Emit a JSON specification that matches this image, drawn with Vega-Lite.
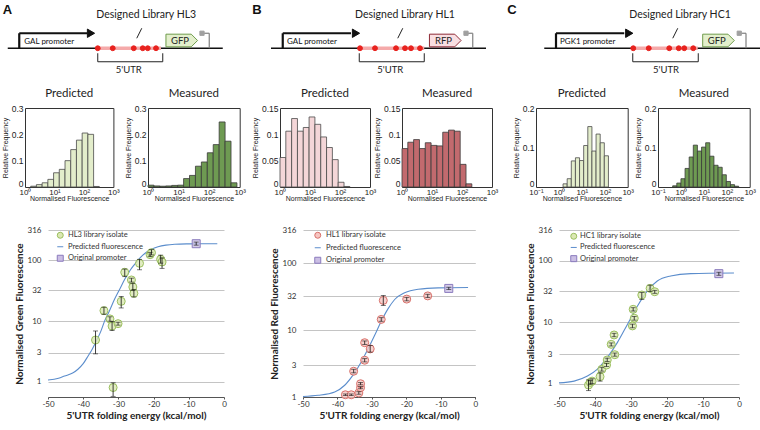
{
"$schema": "https://vega.github.io/schema/vega-lite/v6.json",
"padding": 0,
"background": "white",
"spacing": 0,
"resolve": {"scale": {"x":"independent","y":"independent","color":"independent","fill":"independent","stroke":"independent","shape":"independent","size":"independent","strokeWidth":"independent"}, "legend": {"color":"independent","fill":"independent","stroke":"independent","shape":"independent","size":"independent","strokeWidth":"independent"}},
"config": {"view": {"stroke": null}, "font": "Lato", "concat": {"spacing": 0}, "axis": {"labelOverlap": false}, "axisX": {"labelOverlap": false}},
"datasets": {
"ptsA": [
{"energy":-36.5,"fluor":4.9,"lo":2.9,"hi":6.9,"series":"HL3 library isolate"},
{"energy":-34.1,"fluor":14.9,"lo":13.0,"hi":17.0,"series":"HL3 library isolate"},
{"energy":-32.4,"fluor":10.9,"lo":10.0,"hi":11.8,"series":"HL3 library isolate"},
{"energy":-31.8,"fluor":8.3,"lo":7.0,"hi":9.9,"series":"HL3 library isolate"},
{"energy":-30.1,"fluor":9.1,"lo":8.6,"hi":9.6,"series":"HL3 library isolate"},
{"energy":-31.5,"fluor":0.81,"lo":0.58,"hi":0.97,"series":"HL3 library isolate"},
{"energy":-29.2,"fluor":21.2,"lo":16.5,"hi":25.5,"series":"HL3 library isolate"},
{"energy":-28.2,"fluor":63.7,"lo":54,"hi":72,"series":"HL3 library isolate"},
{"energy":-26.3,"fluor":47.6,"lo":44,"hi":51,"series":"HL3 library isolate"},
{"energy":-25.9,"fluor":36.5,"lo":32,"hi":42,"series":"HL3 library isolate"},
{"energy":-25.6,"fluor":28.7,"lo":25,"hi":33,"series":"HL3 library isolate"},
{"energy":-24.0,"fluor":89.5,"lo":70,"hi":104,"series":"HL3 library isolate"},
{"energy":-21.0,"fluor":124,"lo":115,"hi":134,"series":"HL3 library isolate"},
{"energy":-20.6,"fluor":134,"lo":123,"hi":150,"series":"HL3 library isolate"},
{"energy":-18.0,"fluor":104,"lo":90,"hi":122,"series":"HL3 library isolate"},
{"energy":-17.6,"fluor":94,"lo":74,"hi":110,"series":"HL3 library isolate"},
{"energy":-7.9,"fluor":188,"lo":178,"hi":200,"series":"Original promoter"}
],
"ptsB": [
{"energy":-37.7,"fluor":1.08,"lo":1.05,"hi":1.11,"series":"HL1 library isolate"},
{"energy":-36.0,"fluor":1.08,"lo":1.05,"hi":1.11,"series":"HL1 library isolate"},
{"energy":-33.8,"fluor":1.15,"lo":1.1,"hi":1.2,"series":"HL1 library isolate"},
{"energy":-33.3,"fluor":1.38,"lo":1.33,"hi":1.43,"series":"HL1 library isolate"},
{"energy":-33.3,"fluor":1.58,"lo":1.52,"hi":1.65,"series":"HL1 library isolate"},
{"energy":-35.3,"fluor":2.43,"lo":2.3,"hi":2.6,"series":"HL1 library isolate"},
{"energy":-32.1,"fluor":3.55,"lo":3.35,"hi":3.75,"series":"HL1 library isolate"},
{"energy":-32.1,"fluor":6.5,"lo":6.1,"hi":6.9,"series":"HL1 library isolate"},
{"energy":-30.5,"fluor":5.25,"lo":4.7,"hi":5.9,"series":"HL1 library isolate"},
{"energy":-27.3,"fluor":14.5,"lo":13.6,"hi":15.4,"series":"HL1 library isolate"},
{"energy":-26.7,"fluor":27.9,"lo":23.5,"hi":33,"series":"HL1 library isolate"},
{"energy":-19.9,"fluor":29.2,"lo":27.5,"hi":31,"series":"HL1 library isolate"},
{"energy":-13.8,"fluor":32.6,"lo":30.8,"hi":34.5,"series":"HL1 library isolate"},
{"energy":-7.7,"fluor":42.2,"lo":40.5,"hi":44,"series":"Original promoter"}
],
"ptsC": [
{"energy":-41.8,"fluor":0.95,"lo":0.77,"hi":1.15,"series":"HC1 library isolate"},
{"energy":-41.3,"fluor":1.05,"lo":0.98,"hi":1.12,"series":"HC1 library isolate"},
{"energy":-40.8,"fluor":1.1,"lo":1.0,"hi":1.2,"series":"HC1 library isolate"},
{"energy":-38.6,"fluor":1.3,"lo":1.1,"hi":1.5,"series":"HC1 library isolate"},
{"energy":-38.1,"fluor":1.71,"lo":1.6,"hi":1.85,"series":"HC1 library isolate"},
{"energy":-36.8,"fluor":2.01,"lo":1.9,"hi":2.15,"series":"HC1 library isolate"},
{"energy":-36.6,"fluor":2.43,"lo":2.3,"hi":2.6,"series":"HC1 library isolate"},
{"energy":-34.5,"fluor":2.96,"lo":2.8,"hi":3.15,"series":"HC1 library isolate"},
{"energy":-35.5,"fluor":4.36,"lo":4.1,"hi":4.6,"series":"HC1 library isolate"},
{"energy":-34.7,"fluor":6.2,"lo":5.8,"hi":6.6,"series":"HC1 library isolate"},
{"energy":-29.6,"fluor":8.7,"lo":8.1,"hi":9.3,"series":"HC1 library isolate"},
{"energy":-29.1,"fluor":11.6,"lo":10.8,"hi":12.4,"series":"HC1 library isolate"},
{"energy":-29.4,"fluor":16.2,"lo":15.2,"hi":17.2,"series":"HC1 library isolate"},
{"energy":-27.0,"fluor":27.7,"lo":23.5,"hi":30.5,"series":"HC1 library isolate"},
{"energy":-24.7,"fluor":35.5,"lo":31.5,"hi":40,"series":"HC1 library isolate"},
{"energy":-23.4,"fluor":31.3,"lo":29.5,"hi":33,"series":"HC1 library isolate"},
{"energy":-5.6,"fluor":61.6,"lo":58,"hi":65,"series":"Original promoter"}
]
},
"vconcat": [
{
"hconcat": [
{
"width": 250, "height": 80,
"data": {"values": [
{"kind":"seg","part":"dna","x":2.7,"x2":88.7,"y":12.7,"y2":12.7},
{"kind":"seg","part":"prom","x":7.3,"x2":7.3,"y":12.7,"y2":18.7},
{"kind":"seg","part":"prom","x":7.3,"x2":34.5,"y":18.7,"y2":18.7},
{"kind":"seg","part":"utr","x":38.7,"x2":64,"y":12.7,"y2":12.7},
{"kind":"seg","part":"thin","x":54.3,"x2":56.3,"y":16.7,"y2":20.7},
{"kind":"seg","part":"thin","x":38.7,"x2":38.7,"y":10.7,"y2":7.3},
{"kind":"seg","part":"thin","x":38.7,"x2":64.7,"y":7.3,"y2":7.3},
{"kind":"seg","part":"thin","x":64.7,"x2":64.7,"y":7.3,"y2":10.7},
{"kind":"seg","part":"term","x":80.4,"x2":83.3,"y":18.7,"y2":18.7},
{"kind":"seg","part":"term","x":83.3,"x2":83.3,"y":18.7,"y2":12.7},
{"kind":"pt","part":"site","x":38.7,"y":12.7},
{"kind":"pt","part":"site","x":44.7,"y":12.7},
{"kind":"pt","part":"site","x":53.1,"y":12.7},
{"kind":"pt","part":"site","x":56.7,"y":12.7},
{"kind":"pt","part":"site","x":58.7,"y":12.7},
{"kind":"pt","part":"site","x":62.0,"y":12.7},
{"kind":"pt","part":"head","x":36,"y":18.7},
{"kind":"pt","part":"gfp","x":72.3,"y":15.8},
{"kind":"pt","part":"termbox","x":80.4,"y":18.7},
{"kind":"title","label":"Designed Library HL3","x":58.1,"y":26},
{"kind":"lab","label":"5'UTR","x":51.1,"y":4},
{"kind":"lab","label":"GFP","x":71.6,"y":15.8},
{"kind":"prom","label":"GAL promoter","x":9.3,"y":15.3},
{"kind":"letter","label":"A","x":0.7,"y":28}
]},
"encoding": {
"x": {"field":"x","type":"quantitative","scale":{"domain":[0,100],"nice":false,"zero":false},"axis":null},
"y": {"field":"y","type":"quantitative","scale":{"domain":[0,32],"nice":false,"zero":false},"axis":null}
},
"layer": [
{"transform":[{"filter":"datum.kind=='seg'"}],"mark":{"type":"rule"},
"encoding":{"x2":{"field":"x2"},"y2":{"field":"y2"},
"color":{"field":"part","type":"nominal","scale":{"domain":["dna","prom","utr","thin","term"],"range":["#111111","#111111","#f5aaaa","#222222","#808080"]},"legend":null},
"strokeWidth":{"field":"part","type":"ordinal","scale":{"type":"ordinal","domain":["dna","prom","utr","thin","term"],"range":[1.5,2.2,3.5,1,1.2]},"legend":null}}},
{"transform":[{"filter":"datum.kind=='pt'"}],"mark":{"type":"point","filled":true,"opacity":1,"strokeWidth":1},
"encoding":{
"shape":{"field":"part","type":"nominal","scale":{"domain":["site","head","gfp","rfp","termbox"],"range":["circle","triangle-right","M-1,-0.4L0.6,-0.4L1,0L0.6,0.4L-1,0.4Z","M-1,-0.4L0.6,-0.4L1,0L0.6,0.4L-1,0.4Z","square"]},"legend":null},
"fill":{"field":"part","type":"nominal","scale":{"domain":["site","head","gfp","rfp","termbox"],"range":["#e8221e","#111111","#e3efcc","#f9dfe2","#a0a0a0"]},"legend":null},
"stroke":{"field":"part","type":"nominal","scale":{"domain":["site","head","gfp","rfp","termbox"],"range":["#e8221e","#111111","#6f9c4c","#8e2a36","#a0a0a0"]},"legend":null},
"size":{"field":"part","type":"ordinal","scale":{"type":"ordinal","domain":["site","head","gfp","rfp","termbox"],"range":[24,70,1000,1000,18]},"legend":null}}},
{"transform":[{"filter":"datum.kind=='title'"}],"mark":{"type":"text","font":"Lato","fontSize":10.5,"color":"#222","align":"center","baseline":"middle"},"encoding":{"text":{"field":"label"}}},
{"transform":[{"filter":"datum.kind=='lab'"}],"mark":{"type":"text","font":"Lato","fontSize":9.5,"color":"#222","align":"center","baseline":"middle"},"encoding":{"text":{"field":"label"}}},
{"transform":[{"filter":"datum.kind=='prom'"}],"mark":{"type":"text","font":"Lato","fontSize":8,"color":"#111","align":"left","baseline":"middle"},"encoding":{"text":{"field":"label"}}},
{"transform":[{"filter":"datum.kind=='letter'"}],"mark":{"type":"text","font":"Liberation Sans","fontSize":13,"fontWeight":"bold","color":"#111","align":"left","baseline":"middle"},"encoding":{"text":{"field":"label"}}}
]
},
{
"width": 255, "height": 80,
"data": {"values": [
{"kind":"seg","part":"dna","x":8,"x2":94,"y":12.7,"y2":12.7},
{"kind":"seg","part":"prom","x":12.7,"x2":12.7,"y":12.7,"y2":18.7},
{"kind":"seg","part":"prom","x":12.7,"x2":40,"y":18.7,"y2":18.7},
{"kind":"seg","part":"utr","x":43.3,"x2":69.3,"y":12.7,"y2":12.7},
{"kind":"seg","part":"thin","x":58.7,"x2":60.7,"y":16.7,"y2":20.7},
{"kind":"seg","part":"thin","x":43.3,"x2":43.3,"y":10.7,"y2":7.3},
{"kind":"seg","part":"thin","x":43.3,"x2":69.3,"y":7.3,"y2":7.3},
{"kind":"seg","part":"thin","x":69.3,"x2":69.3,"y":7.3,"y2":10.7},
{"kind":"seg","part":"term","x":86,"x2":88.7,"y":18.7,"y2":18.7},
{"kind":"seg","part":"term","x":88.7,"x2":88.7,"y":18.7,"y2":12.7},
{"kind":"pt","part":"site","x":43.6,"y":12.7},
{"kind":"pt","part":"site","x":49.6,"y":12.7},
{"kind":"pt","part":"site","x":58.0,"y":12.7},
{"kind":"pt","part":"site","x":61.6,"y":12.7},
{"kind":"pt","part":"site","x":64.0,"y":12.7},
{"kind":"pt","part":"site","x":67.6,"y":12.7},
{"kind":"pt","part":"head","x":42,"y":18.7},
{"kind":"pt","part":"rfp","x":77.7,"y":15.8},
{"kind":"pt","part":"termbox","x":86,"y":18.7},
{"kind":"title","label":"Designed Library HL1","x":61.6,"y":26},
{"kind":"lab","label":"5'UTR","x":55.7,"y":4},
{"kind":"lab","label":"RFP","x":77,"y":15.8},
{"kind":"prom","label":"GAL promoter","x":14.4,"y":15.3},
{"kind":"letter","label":"B","x":0.5,"y":28}
]},
"encoding": {
"x": {"field":"x","type":"quantitative","scale":{"domain":[0,102],"nice":false,"zero":false},"axis":null},
"y": {"field":"y","type":"quantitative","scale":{"domain":[0,32],"nice":false,"zero":false},"axis":null}
},
"layer": [
{"transform":[{"filter":"datum.kind=='seg'"}],"mark":{"type":"rule"},
"encoding":{"x2":{"field":"x2"},"y2":{"field":"y2"},
"color":{"field":"part","type":"nominal","scale":{"domain":["dna","prom","utr","thin","term"],"range":["#111111","#111111","#f5aaaa","#222222","#808080"]},"legend":null},
"strokeWidth":{"field":"part","type":"ordinal","scale":{"type":"ordinal","domain":["dna","prom","utr","thin","term"],"range":[1.5,2.2,3.5,1,1.2]},"legend":null}}},
{"transform":[{"filter":"datum.kind=='pt'"}],"mark":{"type":"point","filled":true,"opacity":1,"strokeWidth":1},
"encoding":{
"shape":{"field":"part","type":"nominal","scale":{"domain":["site","head","gfp","rfp","termbox"],"range":["circle","triangle-right","M-1,-0.4L0.6,-0.4L1,0L0.6,0.4L-1,0.4Z","M-1,-0.4L0.6,-0.4L1,0L0.6,0.4L-1,0.4Z","square"]},"legend":null},
"fill":{"field":"part","type":"nominal","scale":{"domain":["site","head","gfp","rfp","termbox"],"range":["#e8221e","#111111","#e3efcc","#f9dfe2","#a0a0a0"]},"legend":null},
"stroke":{"field":"part","type":"nominal","scale":{"domain":["site","head","gfp","rfp","termbox"],"range":["#e8221e","#111111","#6f9c4c","#8e2a36","#a0a0a0"]},"legend":null},
"size":{"field":"part","type":"ordinal","scale":{"type":"ordinal","domain":["site","head","gfp","rfp","termbox"],"range":[24,70,1000,1000,18]},"legend":null}}},
{"transform":[{"filter":"datum.kind=='title'"}],"mark":{"type":"text","font":"Lato","fontSize":10.5,"color":"#222","align":"center","baseline":"middle"},"encoding":{"text":{"field":"label"}}},
{"transform":[{"filter":"datum.kind=='lab'"}],"mark":{"type":"text","font":"Lato","fontSize":9.5,"color":"#222","align":"center","baseline":"middle"},"encoding":{"text":{"field":"label"}}},
{"transform":[{"filter":"datum.kind=='prom'"}],"mark":{"type":"text","font":"Lato","fontSize":8,"color":"#111","align":"left","baseline":"middle"},"encoding":{"text":{"field":"label"}}},
{"transform":[{"filter":"datum.kind=='letter'"}],"mark":{"type":"text","font":"Liberation Sans","fontSize":13,"fontWeight":"bold","color":"#111","align":"left","baseline":"middle"},"encoding":{"text":{"field":"label"}}}
]
},
{
"width": 255, "height": 80,
"data": {"values": [
{"kind":"seg","part":"dna","x":15.3,"x2":102,"y":12.7,"y2":12.7},
{"kind":"seg","part":"prom","x":20,"x2":20,"y":12.7,"y2":18.7},
{"kind":"seg","part":"prom","x":20,"x2":47.3,"y":18.7,"y2":18.7},
{"kind":"seg","part":"utr","x":50.7,"x2":76.7,"y":12.7,"y2":12.7},
{"kind":"seg","part":"thin","x":66.7,"x2":68.7,"y":16.7,"y2":20.7},
{"kind":"seg","part":"thin","x":50.7,"x2":50.7,"y":10.7,"y2":7.3},
{"kind":"seg","part":"thin","x":50.7,"x2":76.9,"y":7.3,"y2":7.3},
{"kind":"seg","part":"thin","x":76.9,"x2":76.9,"y":7.3,"y2":10.7},
{"kind":"seg","part":"term","x":93.3,"x2":96,"y":18.7,"y2":18.7},
{"kind":"seg","part":"term","x":96,"x2":96,"y":18.7,"y2":12.7},
{"kind":"pt","part":"site","x":50.9,"y":12.7},
{"kind":"pt","part":"site","x":57.1,"y":12.7},
{"kind":"pt","part":"site","x":65.3,"y":12.7},
{"kind":"pt","part":"site","x":69.1,"y":12.7},
{"kind":"pt","part":"site","x":71.3,"y":12.7},
{"kind":"pt","part":"site","x":74.9,"y":12.7},
{"kind":"pt","part":"head","x":49.3,"y":18.7},
{"kind":"pt","part":"gfp","x":85,"y":15.8},
{"kind":"pt","part":"termbox","x":93.3,"y":18.7},
{"kind":"title","label":"Designed Library HC1","x":69.6,"y":26},
{"kind":"lab","label":"5'UTR","x":64,"y":4},
{"kind":"lab","label":"GFP","x":84.3,"y":15.8},
{"kind":"prom","label":"PGK1 promoter","x":21.6,"y":15.3},
{"kind":"letter","label":"C","x":0.5,"y":28}
]},
"encoding": {
"x": {"field":"x","type":"quantitative","scale":{"domain":[0,102],"nice":false,"zero":false},"axis":null},
"y": {"field":"y","type":"quantitative","scale":{"domain":[0,32],"nice":false,"zero":false},"axis":null}
},
"layer": [
{"transform":[{"filter":"datum.kind=='seg'"}],"mark":{"type":"rule"},
"encoding":{"x2":{"field":"x2"},"y2":{"field":"y2"},
"color":{"field":"part","type":"nominal","scale":{"domain":["dna","prom","utr","thin","term"],"range":["#111111","#111111","#f5aaaa","#222222","#808080"]},"legend":null},
"strokeWidth":{"field":"part","type":"ordinal","scale":{"type":"ordinal","domain":["dna","prom","utr","thin","term"],"range":[1.5,2.2,3.5,1,1.2]},"legend":null}}},
{"transform":[{"filter":"datum.kind=='pt'"}],"mark":{"type":"point","filled":true,"opacity":1,"strokeWidth":1},
"encoding":{
"shape":{"field":"part","type":"nominal","scale":{"domain":["site","head","gfp","rfp","termbox"],"range":["circle","triangle-right","M-1,-0.4L0.6,-0.4L1,0L0.6,0.4L-1,0.4Z","M-1,-0.4L0.6,-0.4L1,0L0.6,0.4L-1,0.4Z","square"]},"legend":null},
"fill":{"field":"part","type":"nominal","scale":{"domain":["site","head","gfp","rfp","termbox"],"range":["#e8221e","#111111","#e3efcc","#f9dfe2","#a0a0a0"]},"legend":null},
"stroke":{"field":"part","type":"nominal","scale":{"domain":["site","head","gfp","rfp","termbox"],"range":["#e8221e","#111111","#6f9c4c","#8e2a36","#a0a0a0"]},"legend":null},
"size":{"field":"part","type":"ordinal","scale":{"type":"ordinal","domain":["site","head","gfp","rfp","termbox"],"range":[24,70,1000,1000,18]},"legend":null}}},
{"transform":[{"filter":"datum.kind=='title'"}],"mark":{"type":"text","font":"Lato","fontSize":10.5,"color":"#222","align":"center","baseline":"middle"},"encoding":{"text":{"field":"label"}}},
{"transform":[{"filter":"datum.kind=='lab'"}],"mark":{"type":"text","font":"Lato","fontSize":9.5,"color":"#222","align":"center","baseline":"middle"},"encoding":{"text":{"field":"label"}}},
{"transform":[{"filter":"datum.kind=='prom'"}],"mark":{"type":"text","font":"Lato","fontSize":8,"color":"#111","align":"left","baseline":"middle"},"encoding":{"text":{"field":"label"}}},
{"transform":[{"filter":"datum.kind=='letter'"}],"mark":{"type":"text","font":"Liberation Sans","fontSize":13,"fontWeight":"bold","color":"#111","align":"left","baseline":"middle"},"encoding":{"text":{"field":"label"}}}
]
}
],
"bounds": "flush", "spacing": 0,
"resolve": {"scale": {"x":"independent","y":"independent","color":"independent","fill":"independent","stroke":"independent","shape":"independent","size":"independent","strokeWidth":"independent"}, "legend": {"color":"independent","fill":"independent","stroke":"independent","shape":"independent","size":"independent","strokeWidth":"independent"}}
},
{"width": 1, "height": 6.8, "data": {"values": []}, "mark": "point", "encoding": {}},
{
"hconcat": [
{"width": 23.3, "height": 79, "data": {"values": []}, "mark": "point", "encoding": {}},
{
"width": 88.4, "height": 79, "view": {"stroke": "#333", "strokeWidth": 1},
"title": {"text": "Predicted", "font": "Lato", "fontSize": 11.5, "fontWeight": "normal", "color": "#222", "offset": 5},
"data": {"values": [
{"lo":0.194,"hi":0.388,"freq":0.003},{"lo":0.388,"hi":0.582,"freq":0.009},{"lo":0.582,"hi":0.776,"freq":0.016},
{"lo":0.776,"hi":0.970,"freq":0.029},{"lo":0.970,"hi":1.164,"freq":0.054},{"lo":1.164,"hi":1.358,"freq":0.067},
{"lo":1.358,"hi":1.552,"freq":0.100},{"lo":1.552,"hi":1.746,"freq":0.142},{"lo":1.746,"hi":1.940,"freq":0.178},
{"lo":1.940,"hi":2.134,"freq":0.205},{"lo":2.134,"hi":2.328,"freq":0.200},{"lo":2.328,"hi":2.522,"freq":0.002}
]},
"mark": {"type": "bar", "fill": "#e3edcb", "stroke": "#4a4a4a", "strokeWidth": 0.8},
"encoding": {
"x": {"field":"lo","type":"quantitative","scale":{"domain":[0,3],"nice":false,"zero":false},
"axis":{"values":[0,1,2,3],"labelExpr":"'10' + ['⁰','¹','²','³'][datum.value]","title":"Normalised Fluorescence","grid":false,"domain":false,"ticks":false,"labelFont":"Liberation Sans","labelFontSize":8,"labelColor":"#222","labelPadding":1,"labelFlush":false,"titleFont":"Liberation Sans","titleFontSize":7,"titleFontWeight":"normal","titleColor":"#222","titlePadding":-1.5}},
"x2": {"field":"hi"},
"y": {"field":"freq","type":"quantitative","scale":{"domain":[0,0.3],"nice":false},
"axis":{"values":[0,0.1,0.2,0.3],"labelExpr":"''+datum.value","title":"Relative Frequency","grid":false,"domain":false,"ticks":false,"labelFont":"Liberation Sans","labelFontSize":8.5,"labelColor":"#222","labelPadding":2,"labelOffset":{"condition":{"test":"datum.value == 0","value":-4},"value":0},"labelFlush":false,"titleFont":"Liberation Sans","titleFontSize":7,"titleFontWeight":"normal","titleColor":"#222","titlePadding":3}},
"y2": {"datum": 0}
}
},
{"width": 33.3, "height": 79, "data": {"values": []}, "mark": "point", "encoding": {}},
{
"width": 91.7, "height": 79, "view": {"stroke": "#333", "strokeWidth": 1},
"title": {"text": "Measured", "font": "Lato", "fontSize": 11.5, "fontWeight": "normal", "color": "#222", "offset": 5},
"data": {"values": [
{"lo":0.000,"hi":0.194,"freq":0.007},{"lo":0.194,"hi":0.388,"freq":0.004},{"lo":0.388,"hi":0.582,"freq":0.003},
{"lo":0.582,"hi":0.776,"freq":0.004},{"lo":0.776,"hi":0.970,"freq":0.006},{"lo":0.970,"hi":1.164,"freq":0.007},
{"lo":1.164,"hi":1.358,"freq":0.032},{"lo":1.358,"hi":1.552,"freq":0.044},{"lo":1.552,"hi":1.746,"freq":0.079},
{"lo":1.746,"hi":1.940,"freq":0.095},{"lo":1.940,"hi":2.134,"freq":0.130},{"lo":2.134,"hi":2.328,"freq":0.161},
{"lo":2.328,"hi":2.522,"freq":0.247},{"lo":2.522,"hi":2.716,"freq":0.174},{"lo":2.716,"hi":2.910,"freq":0.016}
]},
"mark": {"type": "bar", "fill": "#6e9a52", "stroke": "#3a3a3a", "strokeWidth": 0.8},
"encoding": {
"x": {"field":"lo","type":"quantitative","scale":{"domain":[0,3],"nice":false,"zero":false},
"axis":{"values":[0,1,2,3],"labelExpr":"'10' + ['⁰','¹','²','³'][datum.value]","title":"Normalised Fluorescence","grid":false,"domain":false,"ticks":false,"labelFont":"Liberation Sans","labelFontSize":8,"labelColor":"#222","labelPadding":1,"labelFlush":false,"titleFont":"Liberation Sans","titleFontSize":7,"titleFontWeight":"normal","titleColor":"#222","titlePadding":-1.5}},
"x2": {"field":"hi"},
"y": {"field":"freq","type":"quantitative","scale":{"domain":[0,0.3],"nice":false},
"axis":{"values":[0,0.1,0.2,0.3],"labelExpr":"''+datum.value","title":"Relative Frequency","grid":false,"domain":false,"ticks":false,"labelFont":"Liberation Sans","labelFontSize":8.5,"labelColor":"#222","labelPadding":2,"labelOffset":{"condition":{"test":"datum.value == 0","value":-4},"value":0},"labelFlush":false,"titleFont":"Liberation Sans","titleFontSize":7,"titleFontWeight":"normal","titleColor":"#222","titlePadding":3}},
"y2": {"datum": 0}
}
},
{"width": 40, "height": 79, "data": {"values": []}, "mark": "point", "encoding": {}},
{
"width": 90, "height": 79, "view": {"stroke": "#333", "strokeWidth": 1},
"title": {"text": "Predicted", "font": "Lato", "fontSize": 11.5, "fontWeight": "normal", "color": "#222", "offset": 5},
"data": {"values": [
{"lo":0.000,"hi":0.194,"freq":0.056},{"lo":0.194,"hi":0.388,"freq":0.106},{"lo":0.388,"hi":0.582,"freq":0.130},
{"lo":0.582,"hi":0.776,"freq":0.106},{"lo":0.776,"hi":0.970,"freq":0.113},{"lo":0.970,"hi":1.164,"freq":0.133},
{"lo":1.164,"hi":1.358,"freq":0.119},{"lo":1.358,"hi":1.552,"freq":0.095},{"lo":1.552,"hi":1.746,"freq":0.075},
{"lo":1.746,"hi":1.940,"freq":0.052},{"lo":1.940,"hi":2.134,"freq":0.009},{"lo":2.134,"hi":2.328,"freq":0.001}
]},
"mark": {"type": "bar", "fill": "#f4d6d8", "stroke": "#4a4a4a", "strokeWidth": 0.8},
"encoding": {
"x": {"field":"lo","type":"quantitative","scale":{"domain":[0,3],"nice":false,"zero":false},
"axis":{"values":[0,1,2,3],"labelExpr":"'10' + ['⁰','¹','²','³'][datum.value]","title":"Normalised Fluorescence","grid":false,"domain":false,"ticks":false,"labelFont":"Liberation Sans","labelFontSize":8,"labelColor":"#222","labelPadding":1,"labelFlush":false,"titleFont":"Liberation Sans","titleFontSize":7,"titleFontWeight":"normal","titleColor":"#222","titlePadding":-1.5}},
"x2": {"field":"hi"},
"y": {"field":"freq","type":"quantitative","scale":{"domain":[0,0.15],"nice":false},
"axis":{"values":[0,0.05,0.1,0.15],"labelExpr":"''+datum.value","title":"Relative Frequency","grid":false,"domain":false,"ticks":false,"labelFont":"Liberation Sans","labelFontSize":8.5,"labelColor":"#222","labelPadding":2,"labelOffset":{"condition":{"test":"datum.value == 0","value":-4},"value":0},"labelFlush":false,"titleFont":"Liberation Sans","titleFontSize":7,"titleFontWeight":"normal","titleColor":"#222","titlePadding":3}},
"y2": {"datum": 0}
}
},
{"width": 31.7, "height": 79, "data": {"values": []}, "mark": "point", "encoding": {}},
{
"width": 90, "height": 79, "view": {"stroke": "#333", "strokeWidth": 1},
"title": {"text": "Measured", "font": "Lato", "fontSize": 11.5, "fontWeight": "normal", "color": "#222", "offset": 5},
"data": {"values": [
{"lo":0.000,"hi":0.194,"freq":0.073},{"lo":0.194,"hi":0.388,"freq":0.085},{"lo":0.388,"hi":0.582,"freq":0.090},
{"lo":0.582,"hi":0.776,"freq":0.073},{"lo":0.776,"hi":0.970,"freq":0.084},{"lo":0.970,"hi":1.164,"freq":0.079},
{"lo":1.164,"hi":1.358,"freq":0.078},{"lo":1.358,"hi":1.552,"freq":0.104},{"lo":1.552,"hi":1.746,"freq":0.108},
{"lo":1.746,"hi":1.940,"freq":0.106},{"lo":1.940,"hi":2.134,"freq":0.043},{"lo":2.134,"hi":2.328,"freq":0.006}
]},
"mark": {"type": "bar", "fill": "#c26a6e", "stroke": "#3a3a3a", "strokeWidth": 0.8},
"encoding": {
"x": {"field":"lo","type":"quantitative","scale":{"domain":[0,3],"nice":false,"zero":false},
"axis":{"values":[0,1,2,3],"labelExpr":"'10' + ['⁰','¹','²','³'][datum.value]","title":"Normalised Fluorescence","grid":false,"domain":false,"ticks":false,"labelFont":"Liberation Sans","labelFontSize":8,"labelColor":"#222","labelPadding":1,"labelFlush":false,"titleFont":"Liberation Sans","titleFontSize":7,"titleFontWeight":"normal","titleColor":"#222","titlePadding":-1.5}},
"x2": {"field":"hi"},
"y": {"field":"freq","type":"quantitative","scale":{"domain":[0,0.15],"nice":false},
"axis":{"values":[0,0.05,0.1,0.15],"labelExpr":"''+datum.value","title":"Relative Frequency","grid":false,"domain":false,"ticks":false,"labelFont":"Liberation Sans","labelFontSize":8.5,"labelColor":"#222","labelPadding":2,"labelOffset":{"condition":{"test":"datum.value == 0","value":-4},"value":0},"labelFlush":false,"titleFont":"Liberation Sans","titleFontSize":7,"titleFontWeight":"normal","titleColor":"#222","titlePadding":3}},
"y2": {"datum": 0}
}
},
{"width": 43.3, "height": 79, "data": {"values": []}, "mark": "point", "encoding": {}},
{
"width": 91.7, "height": 79, "view": {"stroke": "#333", "strokeWidth": 1},
"title": {"text": "Predicted", "font": "Lato", "fontSize": 11.5, "fontWeight": "normal", "color": "#222", "offset": 5},
"data": {"values": [
{"lo":0.18,"hi":0.36,"freq":0.008},{"lo":0.36,"hi":0.54,"freq":0.021},{"lo":0.54,"hi":0.72,"freq":0.066},
{"lo":0.72,"hi":0.90,"freq":0.074},{"lo":0.90,"hi":1.08,"freq":0.067},{"lo":1.08,"hi":1.26,"freq":0.105},
{"lo":1.26,"hi":1.44,"freq":0.153},{"lo":1.44,"hi":1.62,"freq":0.091},{"lo":1.62,"hi":1.80,"freq":0.134},
{"lo":1.80,"hi":1.98,"freq":0.112},{"lo":1.98,"hi":2.16,"freq":0.079}
]},
"mark": {"type": "bar", "fill": "#e3edcb", "stroke": "#4a4a4a", "strokeWidth": 0.8},
"encoding": {
"x": {"field":"lo","type":"quantitative","scale":{"domain":[-1,3],"nice":false,"zero":false},
"axis":{"values":[-1,0,1,2,3],"labelExpr":"'10' + ['⁻¹','⁰','¹','²','³'][datum.value + 1]","title":"Normalised Fluorescence","grid":false,"domain":false,"ticks":false,"labelFont":"Liberation Sans","labelFontSize":8,"labelColor":"#222","labelPadding":1,"labelFlush":false,"titleFont":"Liberation Sans","titleFontSize":7,"titleFontWeight":"normal","titleColor":"#222","titlePadding":-1.5}},
"x2": {"field":"hi"},
"y": {"field":"freq","type":"quantitative","scale":{"domain":[0,0.2],"nice":false},
"axis":{"values":[0,0.1,0.2],"labelExpr":"''+datum.value","title":"Relative Frequency","grid":false,"domain":false,"ticks":false,"labelFont":"Liberation Sans","labelFontSize":8.5,"labelColor":"#222","labelPadding":2,"labelOffset":{"condition":{"test":"datum.value == 0","value":-4},"value":0},"labelFlush":false,"titleFont":"Liberation Sans","titleFontSize":7,"titleFontWeight":"normal","titleColor":"#222","titlePadding":3}},
"y2": {"datum": 0}
}
},
{"width": 30, "height": 79, "data": {"values": []}, "mark": "point", "encoding": {}},
{
"width": 91.7, "height": 79, "view": {"stroke": "#333", "strokeWidth": 1},
"title": {"text": "Measured", "font": "Lato", "fontSize": 11.5, "fontWeight": "normal", "color": "#222", "offset": 5},
"data": {"values": [
{"lo":-0.36,"hi":-0.18,"freq":0.003},{"lo":-0.18,"hi":0.00,"freq":0.010},{"lo":0.00,"hi":0.18,"freq":0.021},
{"lo":0.18,"hi":0.36,"freq":0.047},{"lo":0.36,"hi":0.54,"freq":0.076},{"lo":0.54,"hi":0.72,"freq":0.106},
{"lo":0.72,"hi":0.90,"freq":0.091},{"lo":0.90,"hi":1.08,"freq":0.101},{"lo":1.08,"hi":1.26,"freq":0.112},
{"lo":1.26,"hi":1.44,"freq":0.078},{"lo":1.44,"hi":1.62,"freq":0.055},{"lo":1.62,"hi":1.80,"freq":0.050},
{"lo":1.80,"hi":1.98,"freq":0.031},{"lo":1.98,"hi":2.16,"freq":0.014},{"lo":2.16,"hi":2.34,"freq":0.006},
{"lo":2.34,"hi":2.52,"freq":0.002}
]},
"mark": {"type": "bar", "fill": "#6e9a52", "stroke": "#3a3a3a", "strokeWidth": 0.8},
"encoding": {
"x": {"field":"lo","type":"quantitative","scale":{"domain":[-1,3],"nice":false,"zero":false},
"axis":{"values":[-1,0,1,2,3],"labelExpr":"'10' + ['⁻¹','⁰','¹','²','³'][datum.value + 1]","title":"Normalised Fluorescence","grid":false,"domain":false,"ticks":false,"labelFont":"Liberation Sans","labelFontSize":8,"labelColor":"#222","labelPadding":1,"labelFlush":false,"titleFont":"Liberation Sans","titleFontSize":7,"titleFontWeight":"normal","titleColor":"#222","titlePadding":-1.5}},
"x2": {"field":"hi"},
"y": {"field":"freq","type":"quantitative","scale":{"domain":[0,0.2],"nice":false},
"axis":{"values":[0,0.1,0.2],"labelExpr":"''+datum.value","title":"Relative Frequency","grid":false,"domain":false,"ticks":false,"labelFont":"Liberation Sans","labelFontSize":8.5,"labelColor":"#222","labelPadding":2,"labelOffset":{"condition":{"test":"datum.value == 0","value":-4},"value":0},"labelFlush":false,"titleFont":"Liberation Sans","titleFontSize":7,"titleFontWeight":"normal","titleColor":"#222","titlePadding":3}},
"y2": {"datum": 0}
}
}
],
"bounds": "flush", "spacing": 0,
"resolve": {"scale": {"x":"independent","y":"independent"}}
},
{"width": 1, "height": 23.9, "data": {"values": []}, "mark": "point", "encoding": {}},
{
"hconcat": [
{"width": 46.7, "height": 167, "data": {"values": []}, "mark": "point", "encoding": {}},
{
"width": 176, "height": 167,
"encoding": {
"x": {"field":"energy","type":"quantitative","title":"5'UTR folding energy (kcal/mol)","scale":{"domain":[-50,0],"nice":false,"zero":false},
"axis":{"values":[-50,-40,-30,-20,-10,0],"labelExpr":"''+datum.value","labelOverlap":false,"grid":false,"domainColor":"#555","tickColor":"#555","tickSize":2,"labelFont":"Lato","labelFontSize":8,"labelColor":"#333","labelPadding":1,"labelFlush":false,"titleFont":"Lato","titleFontSize":10,"titleFontWeight":"bold","titleColor":"#222","titlePadding":2.2}}
},
"layer": [
{"data": {"values": [
{"energy":-50,"fluor":1.08},{"energy":-47,"fluor":1.15},{"energy":-45.3,"fluor":1.25},{"energy":-43,"fluor":1.4},
{"energy":-41.5,"fluor":1.62},{"energy":-40,"fluor":2.0},{"energy":-38.6,"fluor":2.68},{"energy":-37.4,"fluor":3.5},
{"energy":-36.3,"fluor":4.7},{"energy":-35,"fluor":6.8},{"energy":-33.9,"fluor":10.1},{"energy":-32.5,"fluor":15},
{"energy":-31.1,"fluor":22.9},{"energy":-29.7,"fluor":33},{"energy":-28.2,"fluor":48.8},{"energy":-26.8,"fluor":67},
{"energy":-25.4,"fluor":86},{"energy":-24,"fluor":108},{"energy":-22.5,"fluor":130},{"energy":-20.6,"fluor":152},
{"energy":-18.75,"fluor":167},{"energy":-16.5,"fluor":178},{"energy":-14,"fluor":184},{"energy":-10,"fluor":187},
{"energy":-6.4,"fluor":188},{"energy":-1.9,"fluor":188}
]},
"mark": {"type":"line","color":"#5b8dcc","strokeWidth":1.1,"interpolate":"monotone"},
"encoding": {
"y": {"field":"fluor","type":"quantitative","title":"Normalised Green Fluorescence","scale":{"type":"log","domain":[0.566,316],"nice":false},
"axis":{"values":[1,3,10,32,100,316],"labelExpr":"''+datum.value","grid":true,"gridColor":"#c4c4c4","gridWidth":1,"domain":false,"ticks":false,"labelFont":"Lato","labelFontSize":8,"labelColor":"#333","labelPadding":7,"labelFlush":false,"titleFont":"Lato","titleFontSize":10,"titleFontWeight":"bold","titleColor":"#222","titlePadding":3}}
}},
{"data": {"name": "ptsA"},
"mark": {"type":"point","filled":true,"fillOpacity":0.8,"strokeWidth":1,"size":64},
"encoding": {
"y": {"field":"fluor","type":"quantitative","title":"Normalised Green Fluorescence"},
"shape": {"field":"series","type":"nominal","scale":{"domain":["HL3 library isolate","Predicted fluorescence","Original promoter"],"range":["circle","stroke","square"]},
"legend":{"title":null,"orient":"none","legendX":8.5,"legendY":1.5,"labelFont":"Lato","labelFontSize":7.5,"labelColor":"#333","symbolSize":36,"rowPadding":1.5,"labelOffset":4,"padding":0,"symbolStrokeWidth":1}},
"fill": {"field":"series","type":"nominal","scale":{"domain":["HL3 library isolate","Predicted fluorescence","Original promoter"],"range":["#dbe8b3","#ffffff","#cbbfe4"]},
"legend":{"title":null,"orient":"none","legendX":8.5,"legendY":1.5,"labelFont":"Lato","labelFontSize":7.5,"labelColor":"#333","symbolSize":36,"rowPadding":1.5,"labelOffset":4,"padding":0,"symbolStrokeWidth":1}},
"stroke": {"field":"series","type":"nominal","scale":{"domain":["HL3 library isolate","Predicted fluorescence","Original promoter"],"range":["#9bbf5f","#5b8dcc","#8a7bbd"]},
"legend":{"title":null,"orient":"none","legendX":8.5,"legendY":1.5,"labelFont":"Lato","labelFontSize":7.5,"labelColor":"#333","symbolSize":36,"rowPadding":1.5,"labelOffset":4,"padding":0,"symbolStrokeWidth":1}}
}},
{"data": {"name": "ptsA"}, "mark": {"type":"rule","color":"#111","strokeWidth":0.8},
"encoding": {"y":{"field":"lo","type":"quantitative","title":"Normalised Green Fluorescence"},"y2":{"field":"hi"}}},
{"data": {"name": "ptsA"}, "mark": {"type":"tick","orient":"horizontal","color":"#111","size":5,"thickness":0.8},
"encoding": {"y":{"field":"lo","type":"quantitative","title":"Normalised Green Fluorescence"}}},
{"data": {"name": "ptsA"}, "mark": {"type":"tick","orient":"horizontal","color":"#111","size":5,"thickness":0.8},
"encoding": {"y":{"field":"hi","type":"quantitative","title":"Normalised Green Fluorescence"}}}
]
},
{"width": 79, "height": 167, "data": {"values": []}, "mark": "point", "encoding": {}},
{
"width": 172.3, "height": 167,
"encoding": {
"x": {"field":"energy","type":"quantitative","title":"5'UTR folding energy (kcal/mol)","scale":{"domain":[-50,0],"nice":false,"zero":false},
"axis":{"values":[-50,-40,-30,-20,-10,0],"labelExpr":"''+datum.value","labelOverlap":false,"grid":false,"domainColor":"#555","tickColor":"#555","tickSize":2,"labelFont":"Lato","labelFontSize":8,"labelColor":"#333","labelPadding":1,"labelFlush":false,"titleFont":"Lato","titleFontSize":10,"titleFontWeight":"bold","titleColor":"#222","titlePadding":2.2}}
},
"layer": [
{"data": {"values": [
{"energy":-50,"fluor":1.02},{"energy":-45.6,"fluor":1.06},{"energy":-40.8,"fluor":1.19},{"energy":-37.9,"fluor":1.5},
{"energy":-35.3,"fluor":2.2},{"energy":-33.1,"fluor":3.35},{"energy":-31.1,"fluor":5.3},{"energy":-29.2,"fluor":8.4},
{"energy":-27.3,"fluor":13.6},{"energy":-25.3,"fluor":21},{"energy":-23.4,"fluor":28.8},{"energy":-20.5,"fluor":36.3},
{"energy":-16.6,"fluor":41},{"energy":-10.8,"fluor":43},{"energy":-2.1,"fluor":43.5}
]},
"mark": {"type":"line","color":"#5b8dcc","strokeWidth":1.1,"interpolate":"monotone"},
"encoding": {
"y": {"field":"fluor","type":"quantitative","title":"Normalised Red Fluorescence","scale":{"type":"log","domain":[1,316],"nice":false},
"axis":{"values":[1,3,10,32,100,316],"labelExpr":"''+datum.value","grid":true,"gridColor":"#c4c4c4","gridWidth":1,"domain":false,"ticks":false,"labelFont":"Lato","labelFontSize":8,"labelColor":"#333","labelPadding":7,"labelFlush":false,"titleFont":"Lato","titleFontSize":10,"titleFontWeight":"bold","titleColor":"#222","titlePadding":3}}
}},
{"data": {"name": "ptsB"},
"mark": {"type":"point","filled":true,"fillOpacity":0.8,"strokeWidth":1,"size":64},
"encoding": {
"y": {"field":"fluor","type":"quantitative","title":"Normalised Red Fluorescence"},
"shape": {"field":"series","type":"nominal","scale":{"domain":["HL1 library isolate","Predicted fluorescence","Original promoter"],"range":["circle","stroke","square"]},
"legend":{"title":null,"orient":"none","legendX":11,"legendY":1.5,"labelFont":"Lato","labelFontSize":7.5,"labelColor":"#333","symbolSize":36,"rowPadding":2.5,"labelOffset":4.5,"padding":0,"symbolStrokeWidth":1}},
"fill": {"field":"series","type":"nominal","scale":{"domain":["HL1 library isolate","Predicted fluorescence","Original promoter"],"range":["#f6c6c2","#ffffff","#cbbfe4"]},
"legend":{"title":null,"orient":"none","legendX":11,"legendY":1.5,"labelFont":"Lato","labelFontSize":7.5,"labelColor":"#333","symbolSize":36,"rowPadding":2.5,"labelOffset":4.5,"padding":0,"symbolStrokeWidth":1}},
"stroke": {"field":"series","type":"nominal","scale":{"domain":["HL1 library isolate","Predicted fluorescence","Original promoter"],"range":["#d8716b","#5b8dcc","#8a7bbd"]},
"legend":{"title":null,"orient":"none","legendX":11,"legendY":1.5,"labelFont":"Lato","labelFontSize":7.5,"labelColor":"#333","symbolSize":36,"rowPadding":2.5,"labelOffset":4.5,"padding":0,"symbolStrokeWidth":1}}
}},
{"data": {"name": "ptsB"}, "mark": {"type":"rule","color":"#111","strokeWidth":0.8},
"encoding": {"y":{"field":"lo","type":"quantitative","title":"Normalised Red Fluorescence"},"y2":{"field":"hi"}}},
{"data": {"name": "ptsB"}, "mark": {"type":"tick","orient":"horizontal","color":"#111","size":5,"thickness":0.8},
"encoding": {"y":{"field":"lo","type":"quantitative","title":"Normalised Red Fluorescence"}}},
{"data": {"name": "ptsB"}, "mark": {"type":"tick","orient":"horizontal","color":"#111","size":5,"thickness":0.8},
"encoding": {"y":{"field":"hi","type":"quantitative","title":"Normalised Red Fluorescence"}}}
]
},
{"width": 82.7, "height": 167, "data": {"values": []}, "mark": "point", "encoding": {}},
{
"width": 180, "height": 167,
"encoding": {
"x": {"field":"energy","type":"quantitative","title":"5'UTR folding energy (kcal/mol)","scale":{"domain":[-50,0],"nice":false,"zero":false},
"axis":{"values":[-50,-40,-30,-20,-10,0],"labelExpr":"''+datum.value","labelOverlap":false,"grid":false,"domainColor":"#555","tickColor":"#555","tickSize":2,"labelFont":"Lato","labelFontSize":8,"labelColor":"#333","labelPadding":1,"labelFlush":false,"titleFont":"Lato","titleFontSize":10,"titleFontWeight":"bold","titleColor":"#222","titlePadding":2.2}}
},
"layer": [
{"data": {"values": [
{"energy":-50,"fluor":1.03},{"energy":-45.8,"fluor":1.1},{"energy":-42.1,"fluor":1.33},{"energy":-39.4,"fluor":1.71},
{"energy":-36.6,"fluor":2.65},{"energy":-33.8,"fluor":4.65},{"energy":-31.0,"fluor":9.2},{"energy":-28.2,"fluor":18.3},
{"energy":-25.5,"fluor":32},{"energy":-22.7,"fluor":46.7},{"energy":-19.0,"fluor":56.4},{"energy":-13.4,"fluor":61.6},
{"energy":-1.4,"fluor":63}
]},
"mark": {"type":"line","color":"#5b8dcc","strokeWidth":1.1,"interpolate":"monotone"},
"encoding": {
"y": {"field":"fluor","type":"quantitative","title":"Normalised Green Fluorescence","scale":{"type":"log","domain":[0.607,316],"nice":false},
"axis":{"values":[1,3,10,32,100,316],"labelExpr":"''+datum.value","grid":true,"gridColor":"#c4c4c4","gridWidth":1,"domain":false,"ticks":false,"labelFont":"Lato","labelFontSize":8,"labelColor":"#333","labelPadding":7,"labelFlush":false,"titleFont":"Lato","titleFontSize":10,"titleFontWeight":"bold","titleColor":"#222","titlePadding":3}}
}},
{"data": {"name": "ptsC"},
"mark": {"type":"point","filled":true,"fillOpacity":0.8,"strokeWidth":1,"size":64},
"encoding": {
"y": {"field":"fluor","type":"quantitative","title":"Normalised Green Fluorescence"},
"shape": {"field":"series","type":"nominal","scale":{"domain":["HC1 library isolate","Predicted fluorescence","Original promoter"],"range":["circle","stroke","square"]},
"legend":{"title":null,"orient":"none","legendX":11,"legendY":2.5,"labelFont":"Lato","labelFontSize":7.5,"labelColor":"#333","symbolSize":36,"rowPadding":1.2,"labelOffset":2.5,"padding":0,"symbolStrokeWidth":1}},
"fill": {"field":"series","type":"nominal","scale":{"domain":["HC1 library isolate","Predicted fluorescence","Original promoter"],"range":["#dbe8b3","#ffffff","#cbbfe4"]},
"legend":{"title":null,"orient":"none","legendX":11,"legendY":2.5,"labelFont":"Lato","labelFontSize":7.5,"labelColor":"#333","symbolSize":36,"rowPadding":1.2,"labelOffset":2.5,"padding":0,"symbolStrokeWidth":1}},
"stroke": {"field":"series","type":"nominal","scale":{"domain":["HC1 library isolate","Predicted fluorescence","Original promoter"],"range":["#9bbf5f","#5b8dcc","#8a7bbd"]},
"legend":{"title":null,"orient":"none","legendX":11,"legendY":2.5,"labelFont":"Lato","labelFontSize":7.5,"labelColor":"#333","symbolSize":36,"rowPadding":1.2,"labelOffset":2.5,"padding":0,"symbolStrokeWidth":1}}
}},
{"data": {"name": "ptsC"}, "mark": {"type":"rule","color":"#111","strokeWidth":0.8},
"encoding": {"y":{"field":"lo","type":"quantitative","title":"Normalised Green Fluorescence"},"y2":{"field":"hi"}}},
{"data": {"name": "ptsC"}, "mark": {"type":"tick","orient":"horizontal","color":"#111","size":5,"thickness":0.8},
"encoding": {"y":{"field":"lo","type":"quantitative","title":"Normalised Green Fluorescence"}}},
{"data": {"name": "ptsC"}, "mark": {"type":"tick","orient":"horizontal","color":"#111","size":5,"thickness":0.8},
"encoding": {"y":{"field":"hi","type":"quantitative","title":"Normalised Green Fluorescence"}}}
]
}
],
"bounds": "flush", "spacing": 0,
"resolve": {"scale": {"x":"independent","y":"independent","color":"independent","fill":"independent","stroke":"independent","shape":"independent","size":"independent","strokeWidth":"independent"}, "legend": {"color":"independent","fill":"independent","stroke":"independent","shape":"independent","size":"independent","strokeWidth":"independent"}}
}
]
}
